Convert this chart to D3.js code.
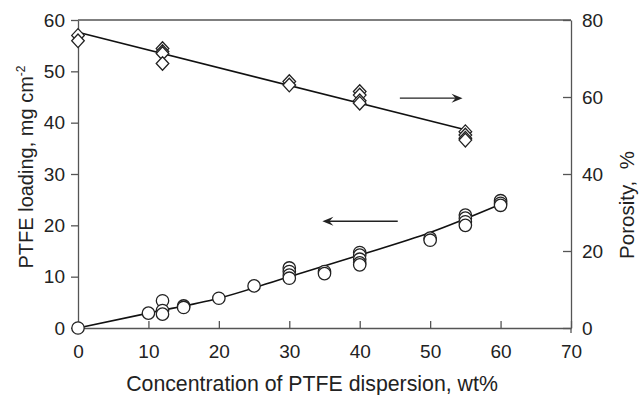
<!DOCTYPE html>
<html>
<head>
<meta charset="utf-8">
<script src="https://cdn.jsdelivr.net/npm/d3@7"></script>
<style>
  body { margin: 0; background: #fff; }
  text { font-family: "Liberation Sans", Arial, sans-serif; fill: #222; }
</style>
</head>
<body>
<div id="container"></div>
<script>
const width = 640;
const height = 395;
const margin = { top: 20, right: 69, bottom: 67, left: 78 };

// PTFE loading (left axis), circles
const loadingX = [0, 10, 12, 12, 12, 15, 15, 20, 25, 30, 30, 30, 30, 35, 35, 40, 40, 40, 40, 40, 50, 50, 55, 55, 55, 55, 60, 60, 60];
const loadingY = [0, 2.9, 5.3, 3.4, 2.7, 4.3, 4.0, 5.8, 8.2, 11.7, 11.0, 10.3, 9.7, 11.0, 10.6, 14.7, 14.2, 13.4, 12.7, 12.3, 17.5, 17.1, 22.0, 21.4, 20.7, 20.0, 24.8, 24.3, 23.9];
// trend line for loading
const loadingFitX = [0, 10, 20, 30, 40, 50, 60];
const loadingFitY = [0, 2.9, 5.8, 10.0, 14.2, 18.6, 24.1];

// porosity (right axis), diamonds
const porosityX = [0, 0, 12, 12, 12, 12, 30, 30, 40, 40, 40, 40, 55, 55, 55, 55];
const porosityY = [76.0, 74.6, 72.6, 71.8, 71.3, 68.7, 64.0, 63.1, 61.4, 60.5, 59.0, 58.4, 51.0, 50.1, 49.3, 48.8];
const porosityFitX = [0, 55];
const porosityFitY = [76.8, 51.5];

const xTicks = [0, 10, 20, 30, 40, 50, 60, 70];
const yLeftTicks = [0, 10, 20, 30, 40, 50, 60];
const yRightTicks = [0, 20, 40, 60, 80];

const svg = d3.select("#container").append("svg")
  .attr("width", width)
  .attr("height", height);

const x = d3.scaleLinear().domain([0, 70]).range([margin.left, width - margin.right]);
const yL = d3.scaleLinear().domain([0, 60]).range([height - margin.bottom, margin.top]);
const yR = d3.scaleLinear().domain([0, 80]).range([height - margin.bottom, margin.top]);

const axisColor = "#555";
const tickFont = "19px";

// frame top line
svg.append("line")
  .attr("x1", x(0)).attr("x2", x(70))
  .attr("y1", yL(60)).attr("y2", yL(60))
  .attr("stroke", axisColor).attr("stroke-width", 1.3);

const gx = svg.append("g")
  .attr("transform", `translate(0,${yL(0)})`)
  .call(d3.axisBottom(x).tickValues(xTicks).tickSize(-7).tickPadding(17).tickSizeOuter(0));

const gyl = svg.append("g")
  .attr("transform", `translate(${x(0)},0)`)
  .call(d3.axisLeft(yL).tickValues(yLeftTicks).tickSize(7).tickPadding(6).tickSizeOuter(0));

const gyr = svg.append("g")
  .attr("transform", `translate(${x(70)},0)`)
  .call(d3.axisRight(yR).tickValues(yRightTicks).tickSize(-8).tickPadding(11).tickSizeOuter(0));

[gx, gyl, gyr].forEach((g) => {
  g.select(".domain").attr("stroke", axisColor).attr("stroke-width", 1.3);
  g.selectAll(".tick line").attr("stroke", axisColor).attr("stroke-width", 1.3);
  g.selectAll(".tick text")
    .attr("fill", "#222")
    .style("font-family", '"Liberation Sans", Arial, sans-serif')
    .style("font-size", tickFont);
});
// right axis line runs a little past the bottom
svg.append("line")
  .attr("x1", x(70)).attr("x2", x(70))
  .attr("y1", yL(0)).attr("y2", yL(0) + 5)
  .attr("stroke", axisColor).attr("stroke-width", 1.3);

// trend lines
const lineL = d3.line()
  .x((d, i) => x(loadingFitX[i]))
  .y((d) => yL(d))
  .curve(d3.curveMonotoneX);
svg.append("path")
  .attr("d", lineL(loadingFitY))
  .attr("fill", "none")
  .attr("stroke", "#111")
  .attr("stroke-width", 1.6);

const lineR = d3.line()
  .x((d, i) => x(porosityFitX[i]))
  .y((d) => yR(d));
svg.append("path")
  .attr("d", lineR(porosityFitY))
  .attr("fill", "none")
  .attr("stroke", "#111")
  .attr("stroke-width", 1.6);

// circles
svg.selectAll("circle.loading")
  .data(loadingY)
  .enter()
  .append("circle")
  .attr("class", "loading")
  .attr("cx", (d, i) => x(loadingX[i]))
  .attr("cy", (d) => yL(d))
  .attr("r", 6.2)
  .attr("fill", "#fff")
  .attr("stroke", "#222")
  .attr("stroke-width", 1.3);

// diamonds
const dw = 6.3, dh = 6.8;
svg.selectAll("path.porosity")
  .data(porosityY)
  .enter()
  .append("path")
  .attr("class", "porosity")
  .attr("d", `M0,${-dh}L${dw},0L0,${dh}L${-dw},0Z`)
  .attr("transform", (d, i) => `translate(${x(porosityX[i])},${yR(d)})`)
  .attr("fill", "#fff")
  .attr("stroke", "#222")
  .attr("stroke-width", 1.3);

// arrows
function arrow(x1, x2, yPix) {
  const dir = x2 > x1 ? 1 : -1;
  svg.append("line")
    .attr("x1", x1).attr("x2", x2 - dir * 4)
    .attr("y1", yPix).attr("y2", yPix)
    .attr("stroke", "#222").attr("stroke-width", 1.4);
  svg.append("path")
    .attr("d", `M${x2},${yPix}L${x2 - dir * 11},${yPix - 4.5}L${x2 - dir * 7},${yPix}L${x2 - dir * 11},${yPix + 4.5}Z`)
    .attr("fill", "#222");
}
arrow(x(45.4), x(34.7), yL(20.8));
arrow(x(45.7), x(54.6), yR(59.7));

// axis titles
svg.append("text")
  .attr("x", 312)
  .attr("y", 391)
  .attr("text-anchor", "middle")
  .style("font-size", "21.3px")
  .text("Concentration of PTFE dispersion, wt%");

const yTitle = svg.append("text")
  .attr("transform", "translate(33,167) rotate(-90)")
  .attr("text-anchor", "middle")
  .style("font-size", "20px");
yTitle.append("tspan").text("PTFE loading, mg cm");
yTitle.append("tspan").attr("dy", -8).style("font-size", "12px").text("-2");

svg.append("text")
  .attr("transform", "translate(634,205) rotate(-90)")
  .attr("text-anchor", "middle")
  .style("font-size", "20.5px")
  .style("white-space", "pre")
  .text("Porosity,  %");
</script>
</body>
</html>
